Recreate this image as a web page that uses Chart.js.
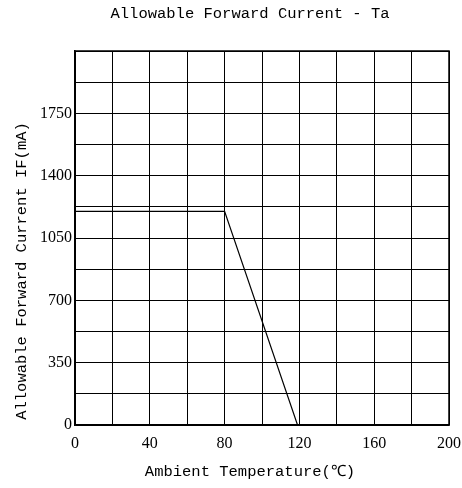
<!DOCTYPE html>
<html>
<head>
<meta charset="utf-8">
<script src="https://cdn.jsdelivr.net/npm/chart.js@4"></script>
<style>
  html, body { margin: 0; padding: 0; background: #fff; }
  #wrap { width: 462px; height: 488px; }
</style>
</head>
<body>
<div id="wrap"><canvas id="chart" width="462" height="488"></canvas></div>
<script>
  // derating curve
  const tempC = [0, 80, 119];
  const currentMA = [1200, 1200, 0];

  const xLabels = [0, 40, 80, 120, 160, 200];
  const yLabels = [0, 350, 700, 1050, 1400, 1750];

  const chartTitle = 'Allowable Forward Current - Ta';
  const xTitle = 'Ambient Temperature(℃)';
  const yTitle = 'Allowable Forward Current IF(mA)';

  const monoFont = '15.5px "Liberation Mono", monospace';
  const serifFont = { family: '"Liberation Serif", serif', size: 16 };

  // titles sit off-centre in the original, so they are placed by hand
  const titles = {
    id: 'titles',
    afterDraw: (chart) => {
      const ctx = chart.ctx;
      ctx.save();
      ctx.fillStyle = '#000';
      ctx.font = monoFont;
      ctx.textAlign = 'center';
      ctx.textBaseline = 'middle';
      ctx.fillText(chartTitle, 250, 14);
      ctx.fillText(xTitle, 250, 472);
      ctx.translate(22, 271);
      ctx.rotate(-Math.PI / 2);
      ctx.fillText(yTitle, 0, 0);
      ctx.restore();
    }
  };

  const frame = {
    id: 'frame',
    afterDraw: (chart) => {
      const { ctx, chartArea: a } = chart;
      ctx.save();
      ctx.strokeStyle = '#000';
      ctx.lineWidth = 1.5;
      ctx.strokeRect(a.left, a.top, a.right - a.left, a.bottom - a.top);
      ctx.restore();
    }
  };

  new Chart(
    document.getElementById('chart'),
    {
      type: 'line',
      data: {
        datasets: [{
          data: tempC.map((t, i) => ({ x: t, y: currentMA[i] })),
          borderColor: '#000',
          borderWidth: 1.2,
          pointRadius: 0,
          tension: 0
        }]
      },
      options: {
        responsive: false,
        animation: false,
        layout: { padding: { left: 0, right: 13, top: 51, bottom: 0 } },
        plugins: {
          legend: { display: false },
          tooltip: { enabled: false },
          title: { display: false }
        },
        scales: {
          x: {
            type: 'linear',
            min: 0,
            max: 200,
            afterFit: (scale) => {
              scale.height = 63;
              scale.paddingLeft = 0;
              scale.paddingRight = 0;
            },
            grid: { color: '#000', lineWidth: 1, drawTicks: false },
            border: { color: '#000', width: 1.5 },
            ticks: {
              stepSize: 20,
              color: '#000',
              font: serifFont,
              padding: 9,
              maxRotation: 0,
              autoSkip: false,
              callback: (v) => xLabels.includes(v) ? String(v) : ''
            }
          },
          y: {
            min: 0,
            max: 2100,
            afterFit: (scale) => {
              scale.width = 75;
              scale.paddingTop = 0;
              scale.paddingBottom = 0;
            },
            grid: { color: '#000', lineWidth: 1, drawTicks: false },
            border: { color: '#000', width: 1.5 },
            ticks: {
              stepSize: 175,
              color: '#000',
              font: serifFont,
              padding: 3,
              autoSkip: false,
              callback: (v) => yLabels.includes(v) ? String(v) : ''
            }
          }
        }
      },
      plugins: [titles, frame]
    }
  );
</script>
</body>
</html>
